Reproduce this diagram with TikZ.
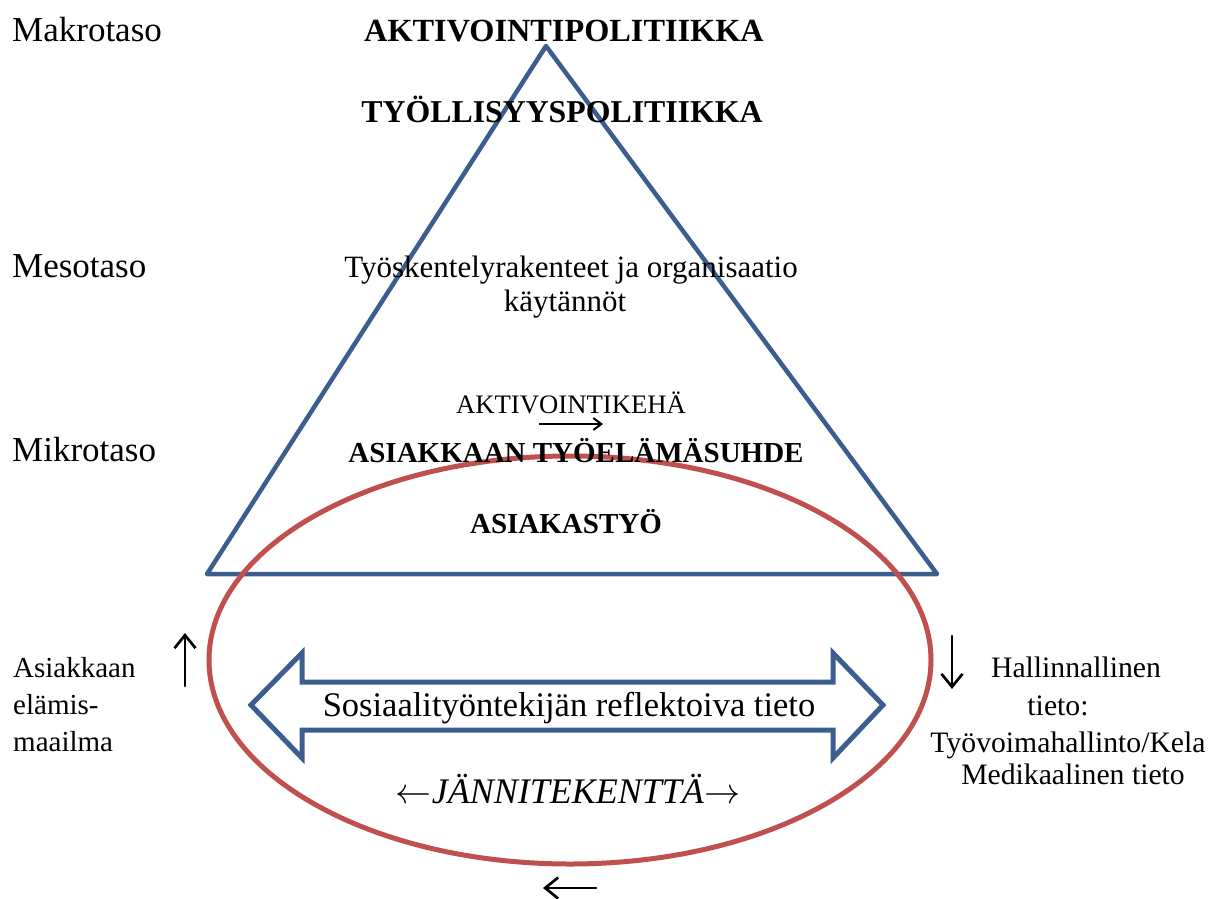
\RequirePackage{fix-cm}
\documentclass[tikz,border=0pt]{standalone}
\usepackage{fontspec}
\setmainfont{Liberation Serif}
\usetikzlibrary{arrows.meta}
\definecolor{triblue}{HTML}{3B5E8E}
\definecolor{ellred}{HTML}{C0504D}
\newcommand\setfs[1]{\fontsize{#1}{#1}\selectfont}
\begin{document}
\begin{tikzpicture}[x=1pt,y=-1pt,
  lvl/.style={inner sep=0pt, anchor=base west, font=\setfs{35}},
  headtxt/.style={inner sep=0pt, anchor=base, font=\setfs{32.3}\bfseries},
  midtxt/.style={inner sep=0pt, anchor=base, font=\setfs{31}},
  kehatxt/.style={inner sep=0pt, anchor=base, font=\setfs{26.7}},
  boldtxt/.style={inner sep=0pt, anchor=base, font=\setfs{29}\bfseries},
  bigtxt/.style={inner sep=0pt, anchor=base, font=\setfs{34.5}},
  jantxt/.style={inner sep=0pt, anchor=base, font=\setfs{36}},
  sidetxt/.style={inner sep=0pt, anchor=base west, font=\setfs{29}},
  righttxt/.style={inner sep=0pt, anchor=base, font=\setfs{29.7}},
  blackarrow/.style={line width=2.7pt, line cap=round, -{Straight Barb[length=13pt,width=21pt,line width=2.7pt]}},
  smallarrow/.style={line width=2pt, -{Straight Barb[length=8pt,width=12pt,line width=2pt]}},
  tri/.style={draw=triblue, line width=4.5pt, line join=round},
  ell/.style={draw=ellred, line width=5pt},
  dblarrow/.style={draw=triblue, line width=5pt, fill=white, line join=miter}
]
\useasboundingbox (0,0) rectangle (1211,898);

% triangle
\coordinate (apex) at (546,46);
\coordinate (bl) at (207,574);
\coordinate (br) at (937,574);
\draw[tri] (apex) -- (bl) -- (br) -- cycle;

% ellipse
\draw[ell] (570,660) ellipse [x radius=361, y radius=204];

% double block arrow
\draw[dblarrow] (251,705) -- (302,653) -- (302,682) -- (833,682) -- (833,653) -- (883,705)
  -- (833,758) -- (833,730) -- (302,730) -- (302,758) -- cycle;

% level labels
\node[lvl] (makro) at (12,41) {Makrotaso};
\node[lvl] (meso) at (12,277) {Mesotaso};
\node[lvl] (mikro) at (12,461) {Mikrotaso};

% triangle texts
\node[headtxt] (aktpol) at (564,41) {AKTIVOINTIPOLITIIKKA};
\node[headtxt, font=\setfs{31.8}\bfseries] (tyopol) at (562,122) {TYÖLLISYYSPOLITIIKKA};
\node[midtxt] (tyosk) at (571,277) {Työskentelyrakenteet ja organisaatio};
\node[midtxt] (kayt) at (565,311) {käytännöt};
\node[kehatxt] (keha) at (571,413) {AKTIVOINTIKEHÄ};
\coordinate (kehaA) at (539,424);
\coordinate (kehaB) at (603,424);
\draw[smallarrow] (kehaA) -- (kehaB);
\node[boldtxt] (suhde) at (576,462) {ASIAKKAAN TYÖELÄMÄSUHDE};
\node[boldtxt] (astyo) at (566,533) {ASIAKASTYÖ};

% ellipse texts
\node[bigtxt] (refl) at (569,716) {Sosiaalityöntekijän reflektoiva tieto};
\node[jantxt] (jann) at (568,803) {$\leftarrow$\textit{JÄNNITEKENTTÄ}$\rightarrow$};

% left side
\node[sidetxt] (ask1) at (13,677) {Asiakkaan};
\node[sidetxt] (ask2) at (13,714) {elämis-};
\node[sidetxt] (ask3) at (13,751) {maailma};
\coordinate (upA) at (185,686);
\coordinate (upB) at (185,633);
\draw[blackarrow] (upA) -- (upB);

% right side
\node[righttxt] (hal1) at (1076,677) {Hallinnallinen};
\node[righttxt] (hal2) at (1058,715) {tieto:};
\node[righttxt] (hal3) at (1068,752) {Työvoimahallinto/Kela};
\node[righttxt] (hal4) at (1073,784) {Medikaalinen tieto};
\coordinate (downA) at (952,636);
\coordinate (downB) at (952,689);
\draw[blackarrow] (downA) -- (downB);

% bottom arrow
\coordinate (leftA) at (596,888);
\coordinate (leftB) at (543,888);
\draw[blackarrow] (leftA) -- (leftB);
\end{tikzpicture}
\end{document}
